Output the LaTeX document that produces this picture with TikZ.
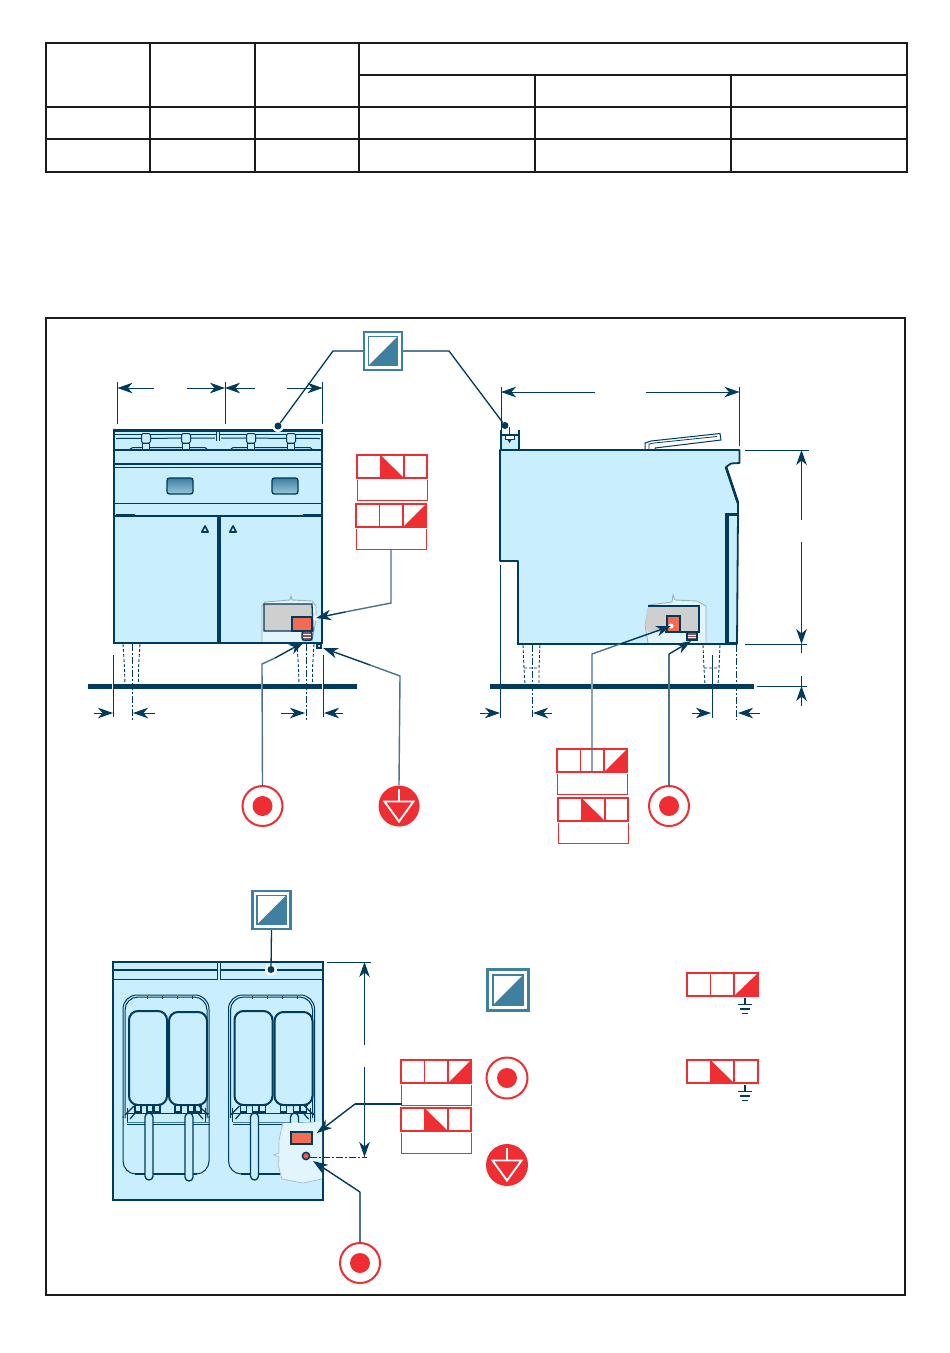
\documentclass[tikz,border=0pt]{standalone}
\usetikzlibrary{arrows.meta,calc}
\definecolor{navy}{HTML}{003A5D}
\definecolor{pale}{HTML}{C9EEFD}
\definecolor{paler}{HTML}{E2F5FD}
\definecolor{symblue}{HTML}{3F7F9F}
\definecolor{leadc}{HTML}{4A7288}
\definecolor{redc}{HTML}{EE2E33}
\definecolor{salmon}{HTML}{F26B55}
\definecolor{grayc}{HTML}{CFCFCF}
\definecolor{tabc}{HTML}{1C1C1C}
\tikzset{
  tabline/.style={draw=tabc,line width=1.5pt},
  body/.style={draw=navy,fill=pale,line width=1.8pt,line join=miter},
  thin/.style={draw=navy,line width=1pt},
  med/.style={draw=navy,line width=1.5pt},
  extl/.style={draw=navy,line width=.9pt},
  dashl/.style={draw=navy,line width=.9pt,dash pattern=on 3pt off 2pt},
  centl/.style={draw=navy,line width=.9pt,dash pattern=on 7pt off 2pt on 2pt off 2pt},
  dimarr/.style={draw=navy,line width=1pt,-{Stealth[length=15pt,width=10.5pt,inset=4.5pt]}},
  leader/.style={draw=leadc,line width=1.4pt},
  leadtip/.style={draw=navy,line width=1.4pt,-{Stealth[length=15pt,width=10.5pt,inset=4.5pt]}},
  floor/.style={draw=navy,line width=5pt},
  symsq/.style={rectangle,draw=symblue,fill=white,line width=2.4pt,minimum size=38pt,inner sep=0pt},
  symtg/.style={circle,draw=redc,fill=white,line width=2pt,minimum size=40pt,inner sep=0pt},
  symgd/.style={circle,fill=redc,minimum size=41pt,inner sep=0pt},
  redl/.style={draw=redc,line width=1.8pt},
  redt/.style={draw=redc,line width=1pt},
  winbox/.style={draw=navy,line width=1.3pt,rounded corners=2.5pt,top color=symblue,bottom color=pale!65!symblue},
  elect/.style={draw=navy,fill=salmon,line width=2pt},
  halo/.style={circle,fill=white,inner sep=0pt,minimum size=12pt},
  dotn/.style={circle,fill=navy,inner sep=0pt,minimum size=7pt}
}
\newcommand{\sqfill}[1]{%
  \draw[symblue,line width=1.2pt] ($(#1)+(-14.5,-14.5)$) rectangle ($(#1)+(14.5,14.5)$);
  \fill[symblue] ($(#1)+(-14.5,14.5)$) -- ($(#1)+(14.5,-14.5)$) -- ($(#1)+(14.5,14.5)$) -- cycle;}
\newcommand{\tgfill}[1]{\fill[redc] (#1) circle (10);}
\newcommand{\gdfill}[1]{%
  \draw[white,line width=1.9pt,line join=miter] ($(#1)+(0,-17)$) -- ($(#1)+(0,-4.5)$)
    ($(#1)+(-14.5,-4.5)$) -- ($(#1)+(14.5,-4.5)$) -- ($(#1)+(0,15.5)$) -- cycle;}
\newcommand{\redtab}[3]{%
  \begin{scope}[shift={(#1,#2)}]
    \ifnum#3=2 \fill[redc] (23.5,0) -- (47,23) -- (23.5,23) -- cycle;
    \else \fill[redc] (47,23) -- (70,0) -- (70,23) -- cycle; \fi
    \draw[redl] (0,0) rectangle (70,23) (23.5,0) -- (23.5,23) (47,0) -- (47,23);
    \draw[redt] (0,25) -- (0,45) -- (70,45) -- (70,25);
  \end{scope}}
\newcommand{\redmini}[3]{%
  \begin{scope}[shift={(#1,#2)}]
    \ifnum#3=2 \fill[redc] (23.5,0) -- (47,23) -- (23.5,23) -- cycle;
    \else \fill[redc] (47,23) -- (71,0) -- (71,23) -- cycle; \fi
    \draw[redt,line width=1.1pt] (0,0) rectangle (71,23) (23.5,0) -- (23.5,23) (47,0) -- (47,23);
    \draw[navy,line width=1.3pt] (58,24.5) -- (58,31) (51,31.5) -- (65,31.5) (53,36) -- (63,36);
    \draw[navy,line width=1.3pt] (55,40.5) -- (61,40.5);
  \end{scope}}
\begin{document}
\begin{tikzpicture}[x=1pt,y=-1pt]
\useasboundingbox (0,0) rectangle (950,1353);
\fill[white] (0,0) rectangle (950,1353);
% ---------- header table
\draw[tabline,line width=2pt] (46,43) rectangle (907,171.5);
\draw[tabline] (150,43) -- (150,171) (255,43) -- (255,171) (359,43) -- (359,171)
  (535,75) -- (535,171) (731,75) -- (731,171)
  (359,75) -- (907,75) (46,107) -- (907,107) (46,139) -- (907,139);
% ---------- frame
\draw[draw=tabc,line width=1.5pt] (46,318) rectangle (905,1295);

% ---------- FRONT VIEW
\filldraw[body,line width=2.6pt] (114,430.5) rectangle (322,643);
\draw[navy,line width=2.2pt] (114,464) -- (322,464);
\draw[med,line width=1.3pt] (114,467.5) -- (322,467.5);
\draw[thin] (114,503) -- (322,503);
\draw[med,line width=1.3pt] (114,516) -- (322,516);
\draw[thin] (115,434.5) -- (216,434.5) (220,434.5) -- (321,434.5);
\draw[thin] (116,438.5) -- (215,438) (221,438) -- (320,438.5);
\draw[med,line width=1.3pt] (114,450) -- (322,450);
\draw[thin] (130,449) -- (133,447.5) -- (205,447.5) -- (207,449) (231,449) -- (233,447.5) -- (310,447.5) -- (312,449);
\draw[thin] (216.5,431) -- (216.5,441) (219.5,431) -- (219.5,441);
\foreach \k in {146,186,251,291}{
  \filldraw[fill=pale,draw=navy,line width=1pt,rounded corners=1.5pt] (\k-4.5,433.5) rectangle (\k+4.5,443);
  \filldraw[fill=pale,draw=navy,line width=1pt] (\k-3.3,443) rectangle (\k+3.3,449);
}
\draw[winbox] (167,478) rectangle (193,494);
\draw[winbox] (272,478) rectangle (298,494);
\draw[med,line width=1.6pt] (116,515) -- (135,515) (303,515) -- (321,515);
\draw[navy,line width=3.4pt] (219,516) -- (219,643);
\foreach \k in {205,233}{
  \filldraw[fill=pale,draw=navy,line width=1.6pt,line join=round] (\k,526) -- (\k+3.2,532) -- (\k-3.2,532) -- cycle;
}
% cut-away
\fill[paler] (262,606) -- (265,602) -- (290,600) -- (291,596) -- (292,600) -- (312,601) -- (316,606) -- (316,620) -- (312,641.5) -- (262,641.5) -- cycle;
\draw[draw=leadc!55,line width=.9pt] (262,641.5) -- (262,606) -- (265,602) -- (290,600) -- (291,596) -- (292,600) -- (312,601) -- (316,606) -- (316,620) -- (312,641.5);
\filldraw[fill=grayc,draw=navy,line width=1.3pt] (264,604) -- (312,604) -- (313,631) -- (264,631) -- cycle;
\draw[elect] (292,617) rectangle (312,630.5);
\filldraw[fill=salmon!55!navy,draw=navy,line width=1.4pt,rounded corners=2.5pt] (302,631) rectangle (312,640.5);
\draw[white,line width=.5pt] (303,634) -- (311,634) (303,637) -- (311,637);
\draw[navy,line width=1.2pt,fill=grayc] (317,644.5) rectangle (321,648);
% legs
\draw[dashl] (123,644) -- (124.5,668) -- (125,685) (140,644) -- (138.5,668) -- (138.5,685);
\draw[dashl] (297,644) -- (298.5,668) -- (299,685) (314,644) -- (312.5,668) -- (312.5,685);
\draw[centl] (132,644) -- (132,720) (306,644) -- (306,720);
\draw[floor] (88,686.5) -- (357,686.5);
\draw[white,line width=1.5pt] (113,684) -- (113,689) (323,684) -- (323,689) (262,684) -- (262,689);
\draw[extl] (113.5,655) -- (113.5,717) (323.5,655) -- (323.5,717);
% top dims
\draw[extl] (117.5,382) -- (117.5,424) (225,382) -- (225,424) (322.5,382) -- (322.5,424);
\coordinate (fa) at (117.5,388); \coordinate (fb) at (225,388); \coordinate (fc) at (322.5,388);
\draw[dimarr] (154,388) -- (fa);
\draw[dimarr] (187,388) -- (fb);
\draw[dimarr] (255,388) -- (fb);
\draw[dimarr] (287,388) -- (fc);
% bottom dims
\draw[dimarr] (94,713) -- (113,713);
\draw[dimarr] (155,713) -- (133,713);
\draw[dimarr] (281,713) -- (305,713);
\draw[dimarr] (343,713) -- (324,713);

% ---------- SIDE VIEW
\filldraw[body] (501,435) rectangle (519,451);
\draw[navy,line width=2pt] (501,430) -- (501,451) (519,430) -- (519,451) (501,435) -- (519,435);
\draw[navy,line width=1pt] (509.5,427) -- (509.5,434);
\filldraw[fill=white,draw=navy,line width=1pt] (505,435.5) rectangle (514,439);
\fill[navy] (507,439) -- (512,439) -- (509.5,443) -- cycle;
\filldraw[fill=white,draw=navy,line width=1pt] (645,450) -- (645,443) -- (651,441) -- (720,433.5) -- (721,440) -- (655,448) -- (655,450) -- cycle;
\draw[navy,line width=.8pt] (649,450) -- (649,444) -- (654,443) -- (717,436.5);
\filldraw[body,line join=round] (500,450) -- (739.5,450) -- (739.5,463) -- (731,463.5) -- (726,467) -- (738,503) -- (738,513) -- (737,644) -- (518,644) -- (518,561) -- (500,561) -- cycle;
\draw[navy,line width=2.6pt] (726,467) -- (738,503);
\draw[navy,line width=3.4pt] (725.5,514.5) -- (738,514.5) (727,513) -- (727,644);
\draw[navy,line width=2.6pt] (727,643.5) -- (737,643.5);
\draw[navy,line width=2.2pt] (518,561) -- (518,644) -- (640,644);
% cut-away side
\fill[paler] (649,605) -- (672,602) -- (673,595) -- (675,600) -- (697,601) -- (706,606) -- (706,643) -- (648,643) -- (645,625) -- cycle;
\draw[draw=leadc!55,line width=.9pt] (648,643) -- (645,625) -- (649,605) -- (672,602) -- (673,595) -- (675,600) -- (697,601) -- (706,606) -- (706,643);
\filldraw[fill=grayc,draw=none] (648,607) -- (699,606) -- (699,632) -- (648,632) -- (645,625) -- cycle;
\draw[navy,line width=1.3pt] (648,606) -- (699,606) -- (699,632) -- (665,632);
\draw[elect,line width=1.4pt] (667,616) rectangle (680,632);
\filldraw[fill=salmon!55!navy,draw=navy,line width=1.3pt] (687,632) rectangle (697,640);
\draw[white,line width=.5pt] (688,635) -- (696,635) (688,637.5) -- (696,637.5);
\draw[navy,line width=2pt] (640,644) -- (737,644);
% legs
\draw[dashl] (523,645) -- (524,668) -- (525,685) (540,645) -- (539,668) -- (539,685) (524,668) -- (539,668);
\draw[dashl] (703,645) -- (704,668) -- (705,685) (720,645) -- (719,668) -- (718,685) (704,668) -- (719,668);
\draw[centl] (532,645) -- (532,718) (736.5,645) -- (736.5,720);
\draw[floor] (490,686.5) -- (754,686.5);
\draw[white,line width=1.5pt] (668.5,684) -- (668.5,689) (592,684) -- (592,689);
\draw[extl] (500.5,565) -- (500.5,718) (712,655) -- (712,718);
% dims
\draw[extl] (501,387) -- (501,430) (739.5,387) -- (739.5,446);
\coordinate (sa) at (501,392); \coordinate (sb) at (739.5,392);
\draw[dimarr] (595,392) -- (sa);
\draw[dimarr] (646,392) -- (sb);
\draw[extl] (745,450) -- (809,450) (745,644) -- (807,644) (757,686) -- (807,686);
\coordinate (ra) at (801.5,450); \coordinate (rb) at (801.5,644); \coordinate (rc) at (801.5,686);
\draw[dimarr] (801.5,520) -- (ra);
\draw[dimarr] (801.5,542) -- (rb);
\draw[extl] (801.5,644) -- (801.5,653) (801.5,676) -- (801.5,686);
\draw[dimarr] (801.5,706) -- (rc);
\draw[dimarr] (480,713) -- (500,713);
\draw[dimarr] (552,713) -- (533,713);
\draw[dimarr] (692,713) -- (711,713);
\draw[dimarr] (760,713) -- (738,713);

% ---------- TOP VIEW
\filldraw[body,line width=2.4pt] (113,962) rectangle (323,1200);
\draw[med] (114,970) -- (323,970);
\draw[thin] (114,979) -- (323,979);
\draw[thin] (217.5,962) -- (217.5,980) (220,962) -- (220,980);
\fill[pale] (217.9,963) rectangle (219.6,980);
\foreach \dx in {0,105.5}{
\begin{scope}[xshift=\dx pt]
  % tub
  \draw[thin,rounded corners=13pt] (123,1116) -- (123,1174) -- (209,1174) -- (209,1116);
  \draw[navy,line width=1.8pt] (135,1174) -- (197,1174);
  \draw[thin,rounded corners=14pt] (123,1118) -- (123,995) -- (209,995) -- (209,1118);
  \draw[thin,rounded corners=13pt] (125,1118) -- (125,997) -- (207,997) -- (207,1118);
  \draw[thin] (147,995.5) -- (147,999) (162,995.5) -- (162,999) (177,995.5) -- (177,999) (192,995.5) -- (192,999);
  \draw[symblue,line width=.9pt] (127,1122) -- (210,1122);
  \draw[navy,line width=.9pt] (127,1124) -- (210,1124) (127,1113) -- (209,1113);
  \draw[navy,line width=.9pt] (127,1108) -- (127,1122) (205,1108) -- (205,1122);
  % baskets
  \draw[navy,line width=2pt,rounded corners=9pt] (129,1011) rectangle (167,1105);
  \draw[navy,line width=2pt,rounded corners=9pt] (169,1012) rectangle (207,1105);
  % brackets
  \draw[navy,line width=2pt] (135,1105) -- (161,1105) (175,1105) -- (202,1105);
  \foreach \b in {135,147,154,175,188,195}{\filldraw[fill=pale,draw=navy,line width=1.2pt] (\b,1105) rectangle (\b+6,1112);}
  \draw[navy,line width=1.2pt] (125,1115) -- (134,1106) (208,1115) -- (199,1106) (130,1119) -- (137,1111) (203,1119) -- (196,1111);
  % handles
  \filldraw[fill=pale,draw=navy,line width=1.3pt,rounded corners=4pt] (145,1113) rectangle (153,1180);
  \filldraw[fill=pale,draw=navy,line width=1.3pt,rounded corners=4pt] (185,1113) rectangle (193,1181);
\end{scope}}
% cut-away top view
\fill[paler] (283,1123) -- (322,1122) -- (322,1179) -- (303,1183) -- (282,1179) -- (278,1165) -- (279,1157) -- (274,1155) -- (279,1153) -- (279,1140) -- cycle;
\draw[draw=leadc!45,line width=.8pt] (322,1179) -- (303,1183) -- (282,1179) -- (278,1165) -- (279,1157) -- (274,1155) -- (279,1153) -- (279,1140) -- (283,1123);
\draw[elect] (291,1132) rectangle (312,1144);
\filldraw[fill=salmon!75!redc,draw=navy,line width=1.5pt] (306,1156) circle (3.6);
\draw[centl] (310,1157) -- (367,1157);
\draw[extl] (327,962) -- (371,962);
\coordinate (ta) at (364.5,962); \coordinate (tb) at (364.5,1157);
\draw[dimarr] (364.5,1045) -- (ta);
\draw[dimarr] (364.5,1067) -- (tb);

% ---------- SYMBOL NODES
\node[symsq] (sqFront) at (383,351) {};
\sqfill{sqFront}
\node[symsq] (sqTop) at (271.5,910) {};
\sqfill{sqTop}
\node[symsq,minimum size=41pt] (sqLeg) at (508,990) {};
\draw[symblue,line width=1.3pt] (493,975) rectangle (523,1005);
\fill[symblue] (493,1005) -- (523,975) -- (523,1005) -- cycle;
\node[symtg] (tgFront) at (262.5,806) {}; \tgfill{tgFront}
\node[symgd] (gdFront) at (399,806) {}; \gdfill{gdFront}
\node[symtg] (tgSide) at (669,806) {}; \tgfill{tgSide}
\node[symtg] (tgTop) at (360,1263) {}; \tgfill{tgTop}
\node[symtg,minimum size=41pt] (tgLeg) at (507,1078) {}; \tgfill{tgLeg}
\node[symgd,minimum size=42pt] (gdLeg) at (507,1165) {}; \gdfill{gdLeg}

% ---------- RED TABLES
\redtab{357}{455}{2}
\redtab{356}{504}{3}
\redtab{557}{749}{3}
\redtab{558}{798}{2}
\redtab{401}{1060}{3}
\redtab{401}{1108}{2}
\redmini{687}{973}{3}
\redmini{687}{1060}{2}

% ---------- CONNECTORS
\node[halo] (dA0) at (278,426) {}; \node[dotn] (dA) at (278,426) {};
\node[dotn] (dB) at (505,425.5) {};
\node[halo] (dC0) at (271,969.5) {}; \node[dotn] (dC) at (271,969.5) {};
\draw[navy,line width=1.3pt] (sqFront.west) -- (333,351) -- (dA);
\draw[navy,line width=1.3pt] (sqFront.east) -- (449,351) -- (dB);
\draw[navy,line width=1.3pt] (sqTop.south) -- (dC);
\coordinate (t1) at (316,618);
\coordinate (t2) at (304,642);
\coordinate (t3) at (323,648);
\coordinate (t4) at (671,626);
\coordinate (t5) at (691,641);
\coordinate (t6) at (317,1133);
\coordinate (t7) at (313,1161);
\coordinate (tabA) at (391,549);
\coordinate (tabB) at (592,772);
\coordinate (tabC) at (402,1104);
\fill[white] (t1) circle (2.5);
\fill[white] (t4) circle (2.5);
\draw[leader] (tabA) -- (391,603) -- (345,612);
\draw[leadtip] (345,612) -- (t1);
\draw[leader] (tgFront.north) -- (262,664) -- (275,658);
\draw[leadtip] (275,658) -- (t2);
\draw[leader] (gdFront.north) -- (400,676) -- (370,665);
\draw[leadtip] (370,665) -- (t3);
\draw[leader] (tabB) -- (592,654) -- (620,644);
\draw[leadtip] (620,644) -- (t4);
\draw[leader] (tgSide.north) -- (669,654);
\draw[leadtip] (669,654) -- (t5);
\draw[navy,line width=1.3pt] (tabC) -- (355,1104);
\draw[leadtip] (355,1104) -- (t6);
\draw[leader] (tgTop.north) -- (360,1192);
\draw[leadtip] (360,1192) -- (t7);
\end{tikzpicture}
\end{document}
